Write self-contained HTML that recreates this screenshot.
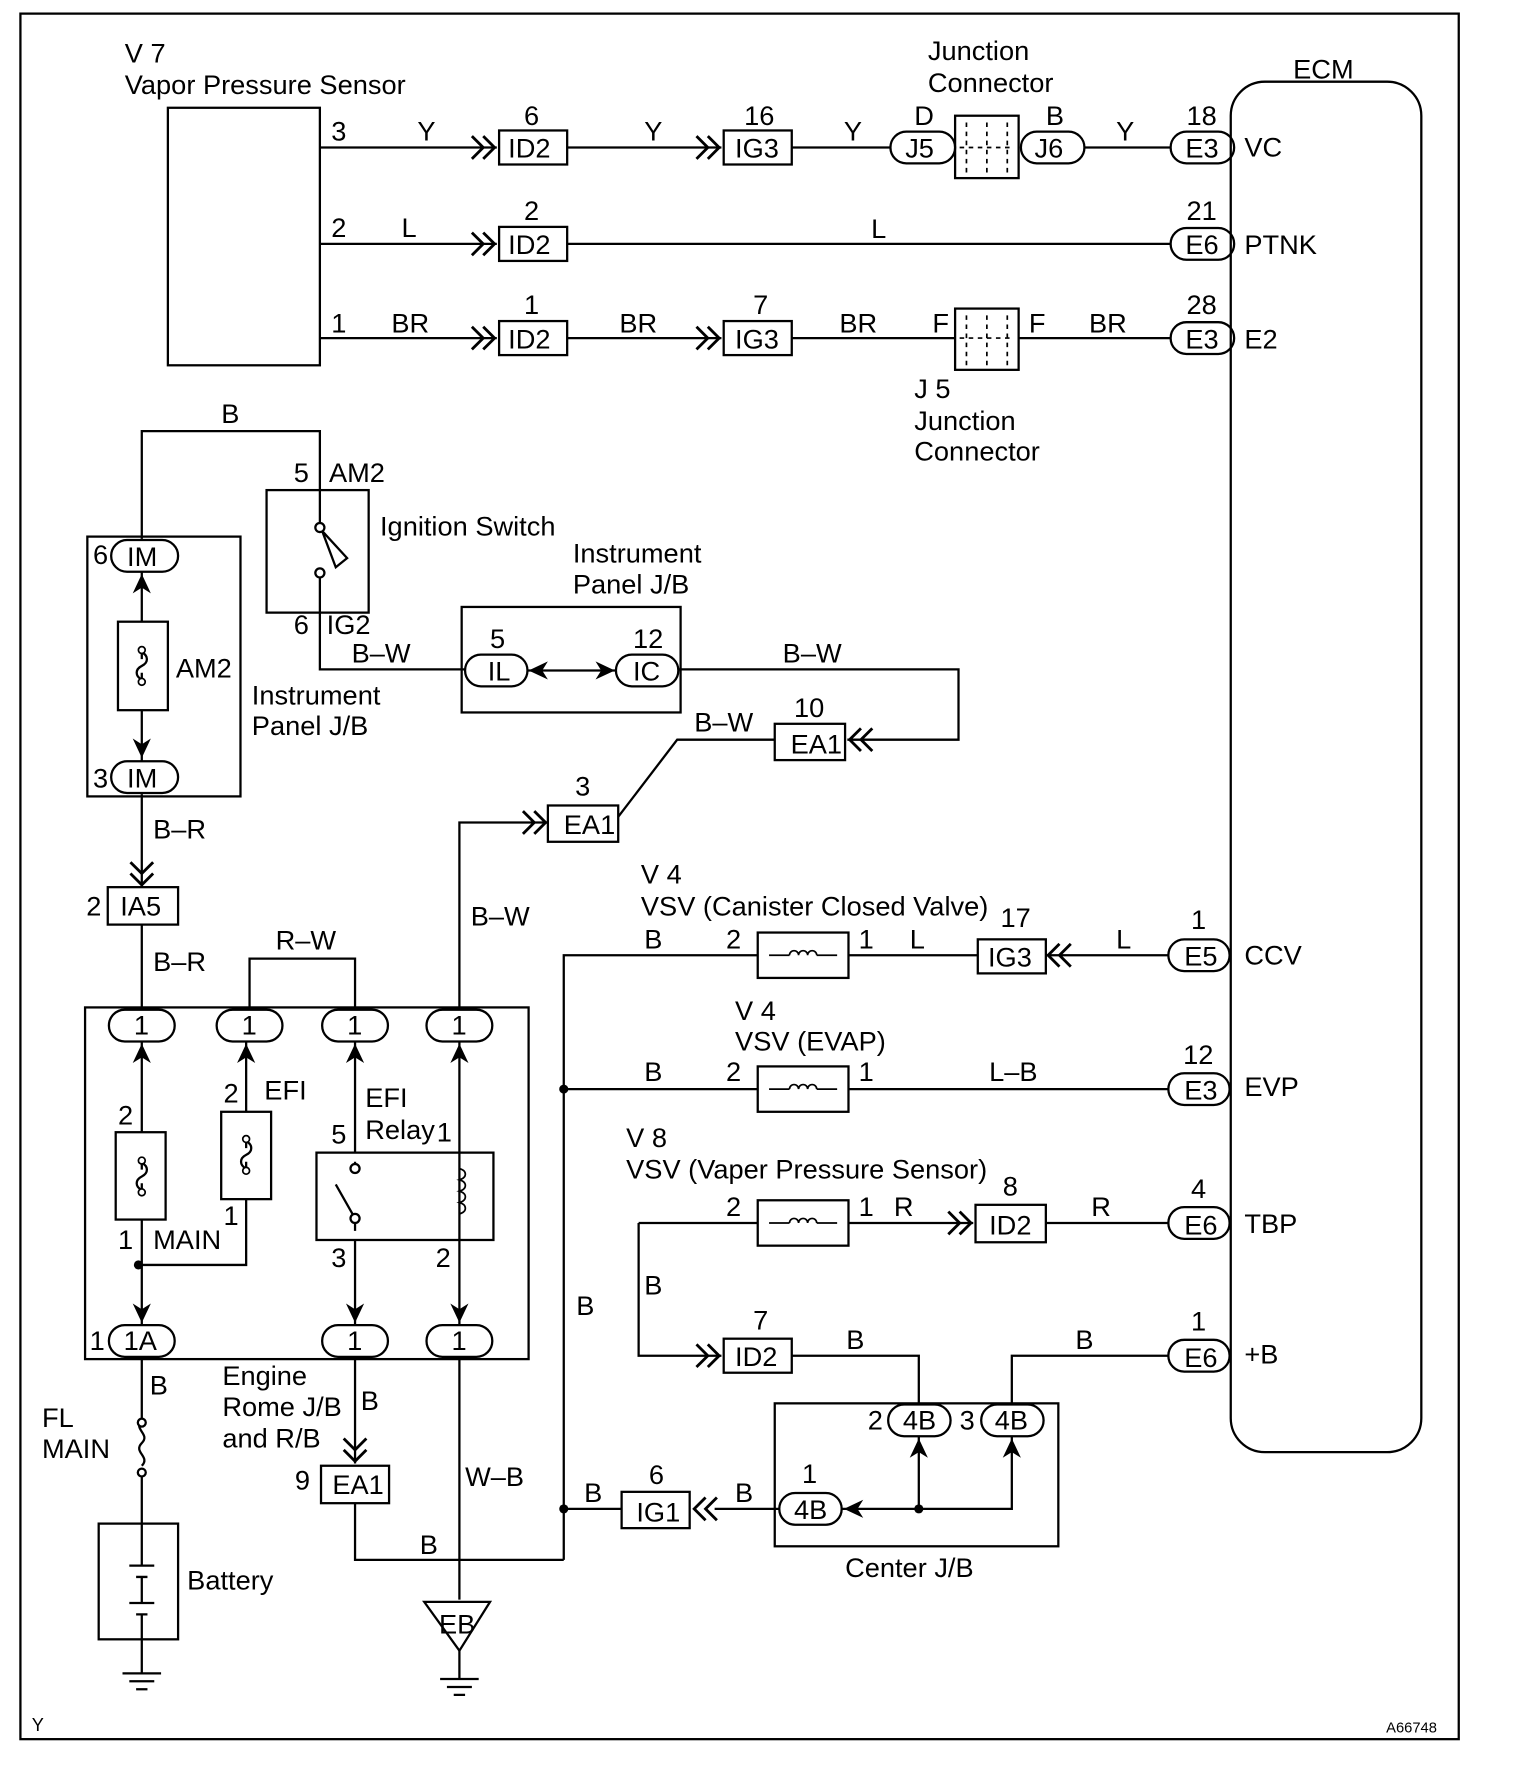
<!DOCTYPE html>
<html><head><meta charset="utf-8"><style>
html,body{margin:0;padding:0;background:#fff}
svg{display:block}
text{font-family:"Liberation Sans",sans-serif;font-size:24px;fill:#000}
</style></head><body>
<svg width="1520" height="1780" viewBox="0 0 1340 1569" preserveAspectRatio="none" xmlns="http://www.w3.org/2000/svg">
<defs>
<path id="cr" d="M-22,-10 L-12,0 L-22,10 M-12,-10 L-2,0 L-12,10" fill="none" stroke="#000" stroke-width="2.5"/>
<path id="cl" d="M22,-10 L12,0 L22,10 M12,-10 L2,0 L12,10" fill="none" stroke="#000" stroke-width="2.5"/>
<path id="cd" d="M-10,-22 L0,-12 L10,-22 M-10,-12 L0,-2 L10,-12" fill="none" stroke="#000" stroke-width="2.5"/>
<path id="au" d="M0,-10 L8,7 L0,2 L-8,7Z" fill="#000"/>
<path id="ad" d="M0,10 L8,-7 L0,-2 L-8,-7Z" fill="#000"/>
<path id="al" d="M-10,0 L7,-8 L2,0 L7,8Z" fill="#000"/>
<path id="ar" d="M10,0 L-7,-8 L-2,0 L-7,8Z" fill="#000"/>
<g id="coil"><rect x="0" y="-20" width="80" height="40" fill="#fff" stroke="#000" stroke-width="2"/><path d="M10,0 H28 M52,0 H70" stroke="#000" stroke-width="1.5"/><path d="M28,0 a4,4 0 1 1 8,0 a4,4 0 1 1 8,0 a4,4 0 1 1 8,0" fill="none" stroke="#000" stroke-width="1.5"/></g>
<g id="fuse"><path d="M0,-14 V-6 M0,6 V14" stroke="#000" stroke-width="2"/><path d="M0,-6 c6,3 6,9 0,12 c-6,3 -6,9 0,12" fill="none" stroke="#000" stroke-width="2" transform="translate(0,-6)"/><circle cx="0" cy="-14" r="3" fill="#fff" stroke="#000" stroke-width="1.5"/><circle cx="0" cy="14" r="3" fill="#fff" stroke="#000" stroke-width="1.5"/></g>
</defs>
<g fill="none" stroke="#000" stroke-width="2">
<rect x="18" y="12" width="1268" height="1521"/>
<rect x="148" y="95" width="134" height="227"/>
<rect x="1085" y="72" width="168" height="1208" rx="30"/>
<path d="M282,130 H438 M500,130 H636 M698,130 H785 M956,130 H1032"/>
<rect x="440" y="115" width="60" height="30"/><rect x="638" y="115" width="60" height="30"/>
<rect x="785" y="116" width="57" height="28" rx="14"/><rect x="900" y="116" width="56" height="28" rx="14"/>
<rect x="842" y="102" width="56" height="55"/>
<path d="M852,108 V152 M870,108 V152 M888,108 V152 M846,130 H894" stroke-dasharray="4,4" stroke-width="1.5"/>
<rect x="1032" y="116" width="56" height="28" rx="14"/>
<path d="M282,215 H438 M500,215 H1032"/>
<rect x="440" y="200" width="60" height="30"/><rect x="1032" y="201" width="56" height="28" rx="14"/>
<path d="M282,298 H438 M500,298 H636 M698,298 H842 M898,298 H1032"/>
<rect x="440" y="283" width="60" height="30"/><rect x="638" y="283" width="60" height="30"/>
<rect x="842" y="272" width="56" height="54"/>
<path d="M852,278 V322 M870,278 V322 M888,278 V322 M846,298 H894" stroke-dasharray="4,4" stroke-width="1.5"/>
<rect x="1032" y="284" width="56" height="28" rx="14"/>
<path d="M125,475 V380 H282 V465 M282,505 V590 H410"/>
<rect x="235" y="432" width="90" height="108"/>
<path d="M284,468 L306,492 L296,500 Z"/>
<rect x="77" y="473" width="135" height="229"/>
<rect x="98" y="476" width="59" height="28" rx="14"/><rect x="98" y="671" width="59" height="28" rx="14"/>
<path d="M125,504 V548 M125,626 V671"/>
<rect x="104" y="548" width="44" height="78"/>
<rect x="407" y="535" width="193" height="93"/>
<rect x="410" y="577" width="55" height="28" rx="14"/><rect x="543" y="577" width="55" height="28" rx="14"/>
<path d="M465,591 H543 M598,590 H845 V652 H747 M683,652 H597 L545,720 M483,725 H405 V888"/>
<rect x="683" y="638" width="62" height="32"/>
<rect x="483" y="710" width="62" height="32"/>
<path d="M125,700 V782 M125,815 V888 M220,888 V845 H313 V888"/>
<rect x="95" y="782" width="62" height="33"/>
<rect x="75" y="888" width="391" height="310"/>
<rect x="96" y="890" width="58" height="28" rx="14"/><rect x="191" y="890" width="58" height="28" rx="14"/>
<rect x="284" y="890" width="58" height="28" rx="14"/><rect x="376" y="890" width="58" height="28" rx="14"/>
<path d="M125,918 V998 M125,1075 V1168 M217,918 V980 M217,1057 V1115 H122 M313,918 V1016 M313,1093 V1168 M405,918 V1168"/>
<rect x="102" y="998" width="44" height="77"/><rect x="195" y="980" width="44" height="77"/>
<rect x="279" y="1016" width="156" height="77"/>
<path d="M313,1030 V1024 M313,1078 V1085 M313,1074 L296,1044"/>
<circle cx="313" cy="1030" r="4" fill="#fff"/><circle cx="313" cy="1074" r="4" fill="#fff"/>
<path d="M405,1030 c7,2 7,8 0,10 c7,2 7,8 0,10 c7,2 7,8 0,10 c7,2 7,8 0,10" stroke-width="1.5"/>
<rect x="96" y="1168" width="58" height="28" rx="14"/><rect x="284" y="1168" width="58" height="28" rx="14"/><rect x="376" y="1168" width="58" height="28" rx="14"/>
<path d="M125,1196 V1252 M125,1300 V1343 M125,1445 V1475 M313,1196 V1290 M313,1325 V1375 H497 M405,1196 V1410"/>
<path d="M125,1252 c-8,8 8,12 0,20 c-8,8 8,12 0,20" />
<circle cx="125" cy="1254" r="3.5" fill="#fff"/><circle cx="125" cy="1298" r="3.5" fill="#fff"/>
<rect x="87" y="1343" width="70" height="102"/>
<path d="M114,1380 H136 M120,1390 H130 M114,1413 H136 M120,1423 H130 M125,1343 V1380 M125,1390 V1413 M125,1423 V1445" stroke-width="2"/>
<path d="M108,1475 H142 M114,1482 H136 M120,1489 H130"/>
<rect x="283" y="1292" width="60" height="33"/>
<path d="M374,1412 H432 L405,1455 Z"/>
<path d="M405,1455 V1480 M388,1480 H422 M394,1487 H416 M400,1494 H410"/>
<path d="M497,1375 V842 H668 M748,842 H862 M922,842 H1030 M497,960 H668 M748,960 H1030"/>
<rect x="862" y="828" width="60" height="30"/>
<rect x="1030" y="828" width="54" height="28" rx="14"/><rect x="1030" y="946" width="54" height="28" rx="14"/>
<path d="M563,1078 H668 M748,1078 H858 M922,1078 H1030 M563,1078 V1195 H636 M698,1195 H810 V1238 M1030,1195 H892 V1238"/>
<rect x="860" y="1062" width="62" height="33"/><rect x="638" y="1180" width="60" height="30"/>
<rect x="1030" y="1064" width="54" height="28" rx="14"/><rect x="1030" y="1181" width="54" height="28" rx="14"/>
<rect x="683" y="1237" width="250" height="126"/>
<rect x="783" y="1238" width="55" height="28" rx="14"/><rect x="865" y="1238" width="55" height="28" rx="14"/>
<rect x="687" y="1316" width="55" height="28" rx="14"/>
<path d="M810,1266 V1330 M892,1266 V1330 H742 M497,1330 H548 M630,1330 H687"/>
<rect x="548" y="1315" width="60" height="32"/>
</g>
<use href="#coil" x="668" y="842"/><use href="#coil" x="668" y="960"/><use href="#coil" x="668" y="1078"/>
<use href="#fuse" x="125" y="587"/><use href="#fuse" x="125" y="1037"/><use href="#fuse" x="217" y="1018"/>
<circle cx="282" cy="465" r="4" fill="#fff" stroke="#000" stroke-width="2"/><circle cx="282" cy="505" r="4" fill="#fff" stroke="#000" stroke-width="2"/>
<circle cx="497" cy="960" r="4"/><circle cx="497" cy="1330" r="4"/><circle cx="810" cy="1330" r="4"/><circle cx="122" cy="1115" r="4"/>
<use href="#cr" x="438" y="130"/><use href="#cr" x="636" y="130"/>
<use href="#cr" x="438" y="215"/><use href="#cr" x="438" y="298"/><use href="#cr" x="636" y="298"/>
<use href="#cl" x="747" y="652"/><use href="#cr" x="483" y="725"/>
<use href="#cd" x="125" y="782"/><use href="#cd" x="313" y="1290"/>
<use href="#cl" x="922" y="842"/><use href="#cr" x="858" y="1078"/><use href="#cr" x="636" y="1195"/>
<use href="#cl" x="610" y="1330"/>
<use href="#au" x="125" y="516"/><use href="#ad" x="125" y="658"/>
<use href="#al" x="476" y="591"/><use href="#ar" x="532" y="591"/>
<use href="#au" x="125" y="930"/><use href="#au" x="217" y="930"/><use href="#au" x="313" y="930"/><use href="#au" x="405" y="930"/>
<use href="#ad" x="125" y="1156"/><use href="#ad" x="313" y="1156"/><use href="#ad" x="405" y="1156"/>
<use href="#au" x="810" y="1278"/><use href="#au" x="892" y="1278"/><use href="#al" x="754" y="1330"/>
<text x="110" y="55">V 7</text><text x="110" y="83">Vapor Pressure Sensor</text>
<text x="818" y="53">Junction</text><text x="818" y="81">Connector</text>
<text x="1140" y="69">ECM</text>
<text x="292" y="124">3</text><text x="368" y="124">Y</text><text x="462" y="110">6</text><text x="448" y="139">ID2</text>
<text x="568" y="124">Y</text><text x="656" y="110">16</text><text x="648" y="139">IG3</text><text x="744" y="124">Y</text>
<text x="806" y="110">D</text><text x="798" y="139">J5</text><text x="922" y="110">B</text><text x="912" y="139">J6</text>
<text x="984" y="124">Y</text><text x="1046" y="110">18</text><text x="1045" y="139">E3</text><text x="1097" y="138">VC</text>
<text x="292" y="209">2</text><text x="354" y="209">L</text><text x="462" y="194">2</text><text x="448" y="224">ID2</text>
<text x="768" y="210">L</text><text x="1046" y="194">21</text><text x="1045" y="224">E6</text><text x="1097" y="224">PTNK</text>
<text x="292" y="293">1</text><text x="345" y="293">BR</text><text x="462" y="277">1</text><text x="448" y="307">ID2</text>
<text x="546" y="293">BR</text><text x="664" y="277">7</text><text x="648" y="307">IG3</text><text x="740" y="293">BR</text>
<text x="822" y="293">F</text><text x="907" y="293">F</text><text x="960" y="293">BR</text>
<text x="1046" y="277">28</text><text x="1045" y="307">E3</text><text x="1097" y="307">E2</text>
<text x="806" y="351">J 5</text><text x="806" y="379">Junction</text><text x="806" y="406">Connector</text>
<text x="195" y="373">B</text><text x="259" y="425">5</text><text x="290" y="425">AM2</text>
<text x="335" y="472">Ignition Switch</text><text x="259" y="559">6</text><text x="288" y="559">IG2</text>
<text x="505" y="496">Instrument</text><text x="505" y="523">Panel J/B</text>
<text x="310" y="584">B–W</text><text x="432" y="571">5</text><text x="430" y="600">IL</text>
<text x="558" y="571">12</text><text x="558" y="600">IC</text><text x="690" y="584">B–W</text>
<text x="700" y="632">10</text><text x="697" y="664">EA1</text><text x="612" y="645">B–W</text>
<text x="507" y="701">3</text><text x="497" y="735">EA1</text><text x="415" y="816">B–W</text>
<text x="82" y="497">6</text><text x="112" y="499">IM</text><text x="155" y="597">AM2</text>
<text x="82" y="694">3</text><text x="112" y="694">IM</text>
<text x="222" y="621">Instrument</text><text x="222" y="648">Panel J/B</text>
<text x="135" y="739">B–R</text><text x="76" y="807">2</text><text x="106" y="807">IA5</text>
<text x="135" y="856">B–R</text><text x="243" y="837">R–W</text>
<text x="118" y="912">1</text><text x="213" y="912">1</text><text x="306" y="912">1</text><text x="398" y="912">1</text>
<text x="104" y="991">2</text><text x="197" y="972">2</text><text x="233" y="969">EFI</text>
<text x="322" y="976">EFI</text><text x="322" y="1004">Relay</text><text x="385" y="1006">1</text><text x="292" y="1008">5</text>
<text x="104" y="1101">1</text><text x="135" y="1101">MAIN</text><text x="197" y="1080">1</text>
<text x="292" y="1117">3</text><text x="384" y="1117">2</text>
<text x="79" y="1190">1</text><text x="109" y="1190">1A</text><text x="306" y="1190">1</text><text x="398" y="1190">1</text>
<text x="132" y="1229">B</text><text x="37" y="1258">FL</text><text x="37" y="1285">MAIN</text>
<text x="196" y="1221">Engine</text><text x="196" y="1248">Rome J/B</text><text x="196" y="1276">and R/B</text>
<text x="318" y="1243">B</text><text x="260" y="1313">9</text><text x="293" y="1317">EA1</text>
<text x="410" y="1310">W–B</text><text x="370" y="1370">B</text><text x="165" y="1401">Battery</text>
<text x="387" y="1440">EB</text>
<text x="508" y="1159">B</text>
<text x="565" y="779">V 4</text><text x="565" y="807">VSV (Canister Closed Valve)</text>
<text x="568" y="836">B</text><text x="640" y="836">2</text><text x="757" y="836">1</text><text x="802" y="836">L</text>
<text x="882" y="817">17</text><text x="871" y="852">IG3</text><text x="984" y="836">L</text>
<text x="1050" y="819">1</text><text x="1044" y="851">E5</text><text x="1097" y="850">CCV</text>
<text x="648" y="899">V 4</text><text x="648" y="926">VSV (EVAP)</text>
<text x="568" y="953">B</text><text x="640" y="953">2</text><text x="757" y="953">1</text><text x="872" y="953">L–B</text>
<text x="1043" y="938">12</text><text x="1044" y="969">E3</text><text x="1097" y="966">EVP</text>
<text x="552" y="1011">V 8</text><text x="552" y="1039">VSV (Vaper Pressure Sensor)</text>
<text x="640" y="1072">2</text><text x="757" y="1072">1</text><text x="788" y="1072">R</text>
<text x="884" y="1054">8</text><text x="872" y="1088">ID2</text><text x="962" y="1072">R</text>
<text x="1050" y="1056">4</text><text x="1044" y="1088">E6</text><text x="1097" y="1087">TBP</text>
<text x="568" y="1141">B</text><text x="664" y="1172">7</text><text x="648" y="1204">ID2</text><text x="746" y="1189">B</text>
<text x="948" y="1189">B</text><text x="1050" y="1173">1</text><text x="1044" y="1205">E6</text><text x="1097" y="1202">+B</text>
<text x="765" y="1260">2</text><text x="796" y="1260">4B</text><text x="846" y="1260">3</text><text x="877" y="1260">4B</text>
<text x="707" y="1307">1</text><text x="700" y="1339">4B</text>
<text x="515" y="1324">B</text><text x="572" y="1308">6</text><text x="561" y="1341">IG1</text><text x="648" y="1324">B</text>
<text x="745" y="1390">Center J/B</text>
<text x="28" y="1526" style="font-size:16px">Y</text><text x="1222" y="1527" style="font-size:13px">A66748</text>
</svg>
</body></html>
